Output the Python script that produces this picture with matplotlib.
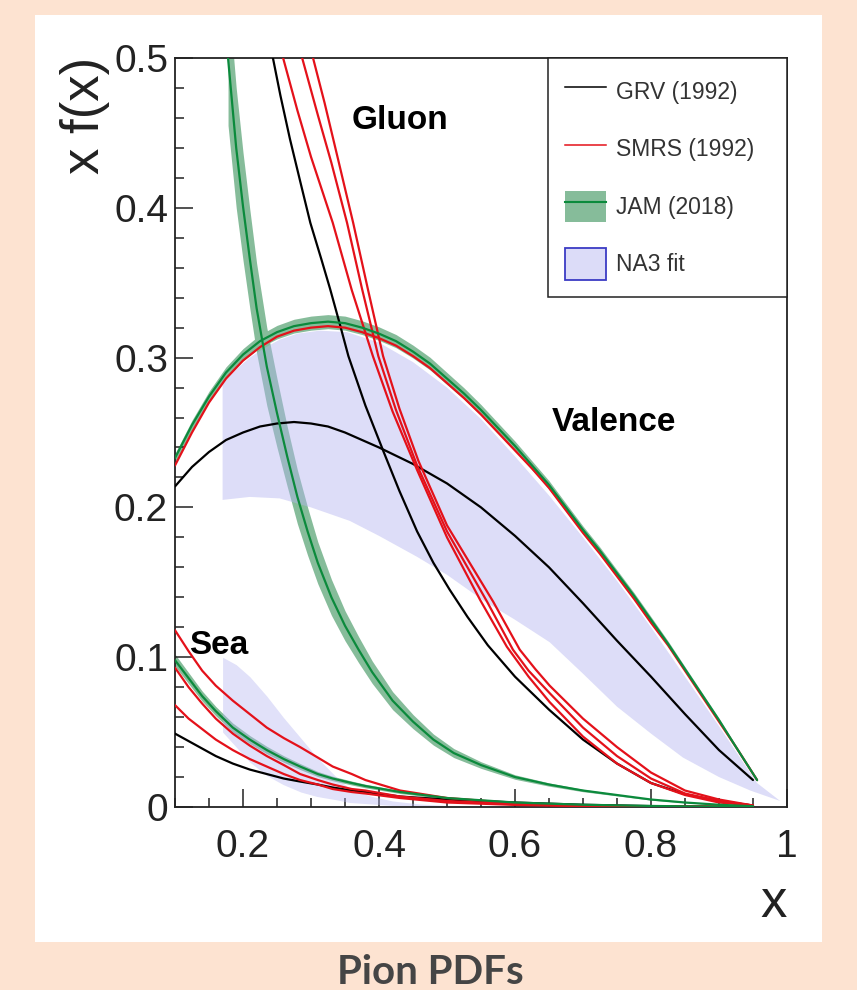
import matplotlib
matplotlib.use("Agg")
import matplotlib.pyplot as plt
from matplotlib.lines import Line2D
from matplotlib.patches import Patch, Rectangle
from matplotlib.ticker import MultipleLocator, FixedFormatter, FixedLocator

# ---- gluon ----
glu_jam_x = [0.178, 0.19, 0.20, 0.21, 0.22, 0.235, 0.25, 0.265, 0.28, 0.295, 0.31, 0.33, 0.35, 0.37,
             0.39, 0.42, 0.45, 0.48, 0.51, 0.55, 0.60, 0.65, 0.70, 0.75, 0.80, 0.85, 0.90, 0.95]
glu_jam_y = [0.500, 0.440, 0.401, 0.366, 0.333, 0.294, 0.263, 0.234, 0.207, 0.184, 0.163, 0.140, 0.121, 0.105,
             0.090, 0.071, 0.057, 0.045, 0.036, 0.028, 0.020, 0.015, 0.011, 0.008, 0.005, 0.003, 0.0015, 0.0005]
glu_jam_err = [0.045, 0.040, 0.036, 0.033, 0.030, 0.026, 0.023, 0.020, 0.018, 0.016, 0.014, 0.012, 0.010, 0.0087,
               0.0075, 0.006, 0.0047, 0.0037, 0.003, 0.0022, 0.0015, 0.0011, 0.0008, 0.0006, 0.0004, 0.0002, 0.0001, 0.0]

glu_grv_x = [0.244, 0.255, 0.269, 0.285, 0.299, 0.315, 0.328, 0.342, 0.355, 0.38, 0.406, 0.43, 0.456, 0.48,
             0.504, 0.53, 0.56, 0.60, 0.65, 0.70, 0.75, 0.80, 0.85, 0.90, 0.95]
glu_grv_y = [0.500, 0.475, 0.446, 0.416, 0.390, 0.366, 0.346, 0.323, 0.301, 0.268, 0.238, 0.211, 0.184, 0.163,
             0.145, 0.127, 0.108, 0.087, 0.065, 0.045, 0.029, 0.016, 0.0085, 0.004, 0.001]

glu_smrs_x = [
    [0.259, 0.28, 0.30, 0.332, 0.36, 0.391, 0.42, 0.456, 0.50, 0.549, 0.588, 0.62, 0.651, 0.70, 0.75, 0.80, 0.85, 0.90, 0.95],
    [0.287, 0.31, 0.33, 0.353, 0.375, 0.399, 0.425, 0.456, 0.50, 0.559, 0.597, 0.62, 0.651, 0.70, 0.75, 0.80, 0.85, 0.90, 0.95],
    [0.303, 0.32, 0.34, 0.362, 0.384, 0.406, 0.43, 0.458, 0.50, 0.568, 0.607, 0.63, 0.651, 0.70, 0.75, 0.80, 0.85, 0.90, 0.95],
]
glu_smrs_y = [
    [0.500, 0.465, 0.434, 0.390, 0.345, 0.301, 0.264, 0.225, 0.180, 0.138, 0.107, 0.087, 0.070, 0.047, 0.029, 0.016, 0.008, 0.003, 0.001],
    [0.500, 0.462, 0.430, 0.390, 0.346, 0.301, 0.265, 0.228, 0.184, 0.137, 0.105, 0.091, 0.076, 0.053, 0.034, 0.019, 0.009, 0.004, 0.001],
    [0.500, 0.470, 0.432, 0.390, 0.345, 0.301, 0.266, 0.231, 0.188, 0.137, 0.105, 0.092, 0.081, 0.059, 0.040, 0.023, 0.011, 0.005, 0.001],
]

# ---- valence ----
val_x = [0.10, 0.125, 0.15, 0.175, 0.20, 0.225, 0.25, 0.275, 0.30, 0.325, 0.35, 0.375, 0.40, 0.425, 0.45, 0.475,
         0.50, 0.525, 0.55, 0.575, 0.60, 0.625, 0.65, 0.675, 0.70, 0.725, 0.75, 0.775, 0.80, 0.825, 0.85, 0.875,
         0.90, 0.925, 0.956]
val_jam_y = [0.233, 0.255, 0.274, 0.290, 0.302, 0.311, 0.317, 0.321, 0.323, 0.324, 0.323, 0.320, 0.316, 0.311,
             0.304, 0.296, 0.286, 0.276, 0.265, 0.253, 0.241, 0.228, 0.215, 0.200, 0.185, 0.171, 0.156, 0.141,
             0.125, 0.109, 0.092, 0.075, 0.058, 0.040, 0.018]
val_jam_err = [0.003, 0.0032, 0.0035, 0.0038, 0.004, 0.0043, 0.0045, 0.0046, 0.0047, 0.0047, 0.0047, 0.0046,
               0.0045, 0.0044, 0.0043, 0.0042, 0.004, 0.0038, 0.0036, 0.0034, 0.0032, 0.003, 0.0028, 0.0026,
               0.0025, 0.0024, 0.0022, 0.0021, 0.002, 0.0018, 0.0016, 0.0014, 0.0013, 0.0011, 0.001]
val_smrs_y = [0.228, 0.250, 0.270, 0.286, 0.298, 0.307, 0.314, 0.318, 0.320, 0.321, 0.320, 0.317, 0.313, 0.308,
              0.301, 0.293, 0.283, 0.273, 0.262, 0.250, 0.238, 0.226, 0.213, 0.198, 0.183, 0.169, 0.154, 0.139,
              0.123, 0.108, 0.091, 0.074, 0.057, 0.040, 0.018]

val_grv_x = [0.10, 0.125, 0.15, 0.175, 0.20, 0.225, 0.25, 0.275, 0.30, 0.325, 0.35, 0.375, 0.40, 0.45, 0.50,
             0.55, 0.60, 0.65, 0.70, 0.75, 0.80, 0.85, 0.90, 0.95]
val_grv_y = [0.214, 0.227, 0.237, 0.245, 0.250, 0.254, 0.256, 0.257, 0.256, 0.254, 0.250, 0.245, 0.240, 0.229,
             0.216, 0.200, 0.181, 0.160, 0.136, 0.111, 0.087, 0.062, 0.038, 0.018]

na3_val_up_x = [0.17, 0.19, 0.21, 0.23, 0.254, 0.28, 0.313, 0.353, 0.40, 0.45, 0.50, 0.55, 0.60, 0.65, 0.70,
                0.75, 0.80, 0.85, 0.90, 0.956, 0.99]
na3_val_up_y = [0.283, 0.292, 0.300, 0.306, 0.312, 0.316, 0.318, 0.317, 0.310, 0.297, 0.280, 0.259, 0.234,
                0.208, 0.180, 0.151, 0.120, 0.087, 0.054, 0.016, 0.004]
na3_val_lo_x = [0.17, 0.21, 0.254, 0.30, 0.357, 0.40, 0.456, 0.50, 0.553, 0.60, 0.651, 0.70, 0.75, 0.80,
                0.847, 0.90, 0.946, 0.99]
na3_val_lo_y = [0.205, 0.207, 0.206, 0.200, 0.191, 0.181, 0.167, 0.155, 0.138, 0.125, 0.110, 0.089, 0.067,
                0.049, 0.033, 0.020, 0.011, 0.004]

# ---- sea ----
sea_x = [0.10, 0.12, 0.14, 0.16, 0.185, 0.21, 0.235, 0.26, 0.284, 0.31, 0.332, 0.36, 0.38, 0.431, 0.50,
         0.60, 0.70, 0.80, 0.90, 0.95]
sea_jam_y = [0.098, 0.086, 0.074, 0.064, 0.053, 0.045, 0.038, 0.032, 0.027, 0.022, 0.019, 0.016, 0.014, 0.010,
             0.006, 0.003, 0.0015, 0.0007, 0.0002, 0.0001]
sea_jam_err = [0.004, 0.0037, 0.0034, 0.0031, 0.003, 0.0027, 0.0025, 0.0022, 0.002, 0.0017, 0.0015, 0.0013,
               0.0012, 0.001, 0.0007, 0.0004, 0.0002, 0.0001, 0.0, 0.0]
sea_smrs_y = [
    [0.118, 0.104, 0.091, 0.081, 0.071, 0.062, 0.053, 0.046, 0.040, 0.033, 0.027, 0.022, 0.018, 0.011, 0.006,
     0.0025, 0.001, 0.0004, 0.0001, 0.0],
    [0.093, 0.080, 0.069, 0.059, 0.049, 0.041, 0.034, 0.028, 0.022, 0.018, 0.015, 0.012, 0.011, 0.007, 0.004,
     0.0018, 0.0008, 0.0003, 0.0001, 0.0],
    [0.068, 0.059, 0.052, 0.045, 0.038, 0.032, 0.027, 0.022, 0.018, 0.015, 0.012, 0.010, 0.009, 0.006, 0.003,
     0.0014, 0.0006, 0.0002, 0.0001, 0.0],
]
sea_grv_y = [0.049, 0.044, 0.039, 0.034, 0.029, 0.025, 0.022, 0.019, 0.017, 0.015, 0.013, 0.011, 0.010, 0.007,
             0.005, 0.003, 0.0015, 0.0006, 0.0002, 0.0001]

na3_sea_x = [0.17, 0.19, 0.21, 0.235, 0.259, 0.285, 0.309, 0.335, 0.357, 0.39, 0.42, 0.46, 0.50]
na3_sea_up = [0.100, 0.095, 0.087, 0.074, 0.060, 0.046, 0.033, 0.021, 0.012, 0.007, 0.004, 0.002, 0.001]
na3_sea_lo = [0.050, 0.040, 0.030, 0.021, 0.015, 0.010, 0.007, 0.005, 0.003, 0.002, 0.001, 0.0005, 0.0]

GREEN = "#0b8a3c"
GREEN_BAND = "#86bc9a"
RED = "#e4111a"
NA3 = "#b4b4f0"
FONT = "Liberation Sans"

fig = plt.figure(figsize=(8.57, 9.9), dpi=100)
fig.patch.set_facecolor("#fde3d1")
fig.patches.append(Rectangle((35 / 857, 1 - 942 / 990), 787 / 857, 927 / 990,
                             transform=fig.transFigure, facecolor="white", edgecolor="none", zorder=-10))

ax = fig.add_axes([175 / 857, 1 - 807 / 990, 612 / 857, 749 / 990])


def band(x, y, e, **kw):
    ax.fill_between(x, [a - b for a, b in zip(y, e)], [a + b for a, b in zip(y, e)], lw=0, **kw)


# green bands
band(glu_jam_x, glu_jam_y, glu_jam_err, color=GREEN_BAND, zorder=1)
band(val_x, val_jam_y, val_jam_err, color=GREEN_BAND, zorder=1)
band(sea_x, sea_jam_y, sea_jam_err, color=GREEN_BAND, zorder=1)

# NA3 fit bands
ax.fill(na3_val_up_x + na3_val_lo_x[::-1], na3_val_up_y + na3_val_lo_y[::-1],
        color=NA3, alpha=0.45, lw=0, zorder=2)
ax.fill_between(na3_sea_x, na3_sea_lo, na3_sea_up, color=NA3, alpha=0.40, lw=0, zorder=2)

kw = dict(lw=1.6, solid_joinstyle="round", solid_capstyle="round")
# GRV
ax.plot(glu_grv_x, glu_grv_y, color="black", zorder=3, **kw)
ax.plot(val_grv_x, val_grv_y, color="black", zorder=3, **kw)
ax.plot(sea_x, sea_grv_y, color="black", zorder=3, **kw)
# SMRS
for xs, ys in zip(glu_smrs_x, glu_smrs_y):
    ax.plot(xs, ys, color=RED, zorder=4, **kw)
ax.plot(val_x, val_smrs_y, color=RED, zorder=4, **kw)
for ys in sea_smrs_y:
    ax.plot(sea_x, ys, color=RED, zorder=4, **kw)
# JAM
ax.plot(glu_jam_x, glu_jam_y, color=GREEN, zorder=5, **kw)
ax.plot(val_x, val_jam_y, color=GREEN, zorder=5, **kw)
ax.plot(sea_x, sea_jam_y, color=GREEN, zorder=5, **kw)

ax.set_xlim(0.1, 1.0)
ax.set_ylim(0, 0.5)

ax.xaxis.set_major_locator(FixedLocator([0.2, 0.4, 0.6, 0.8, 1.0]))
ax.xaxis.set_major_formatter(FixedFormatter(["0.2", "0.4", "0.6", "0.8", "1"]))
ax.xaxis.set_minor_locator(MultipleLocator(0.05))
ax.yaxis.set_major_locator(FixedLocator([0, 0.1, 0.2, 0.3, 0.4, 0.5]))
ax.yaxis.set_major_formatter(FixedFormatter(["0", "0.1", "0.2", "0.3", "0.4", "0.5"]))
ax.yaxis.set_minor_locator(MultipleLocator(0.02))
ax.tick_params(which="both", direction="in", top=False, right=False, width=1.1, color="#222222")
ax.tick_params(which="major", length=13)
ax.tick_params(which="minor", length=6.5)
ax.tick_params(axis="x", which="major", pad=16, labelsize=28)
ax.tick_params(axis="y", which="major", pad=5, labelsize=28)
for lab in ax.get_xticklabels() + ax.get_yticklabels():
    lab.set_family(FONT)
    lab.set_color("#222222")
for sp in ax.spines.values():
    sp.set_linewidth(1.3)
    sp.set_color("#222222")

fig.text(85 / 857, 1 - 57 / 990, "x f(x)", rotation=90, ha="center", va="top",
         fontsize=38, family=FONT, color="#222222")
fig.text(787 / 857, 1 - 903 / 990, "x", ha="right", va="center",
         fontsize=38, family=FONT, color="#222222")

ax.text(0.4315, 0.458, "Gluon", ha="center", va="center", fontsize=24, fontweight="bold", family=FONT)
ax.text(0.746, 0.257, "Valence", ha="center", va="center", fontsize=24, fontweight="bold", family=FONT)
ax.text(0.120, 0.108, "Sea", ha="left", va="center", fontsize=24, fontweight="bold", family=FONT)

handles = [
    Line2D([], [], color="black", lw=1.1),
    Line2D([], [], color=RED, lw=1.1),
    (Patch(facecolor=GREEN_BAND, edgecolor="none"), Line2D([], [], color=GREEN, lw=1.5)),
    Patch(facecolor="#dcdcf8", edgecolor="#3b3bc4", lw=1.3),
]
labels = ["GRV (1992)", "SMRS (1992)", "JAM (2018)", "NA3 fit"]
leg = ax.legend(handles, labels, loc="upper left", bbox_to_anchor=(0.6095, 0, 0.3905, 1.0),
                mode="expand", borderaxespad=0, handlelength=1.75, handleheight=1.75,
                labelspacing=1.13, borderpad=0.76, handletextpad=0.44, fancybox=False,
                framealpha=1, edgecolor="#222222", prop={"family": FONT, "size": 16.5})
leg.get_frame().set_linewidth(1.1)
for t in leg.get_texts():
    t.set_color("#333333")

fig.text(430 / 857, 1 - 973 / 990, "Pion PDFs", ha="center", va="center",
         fontsize=29, fontweight="bold", family="Lato", color="#454545")

fig.savefig("out.png", dpi=100, facecolor=fig.get_facecolor())
